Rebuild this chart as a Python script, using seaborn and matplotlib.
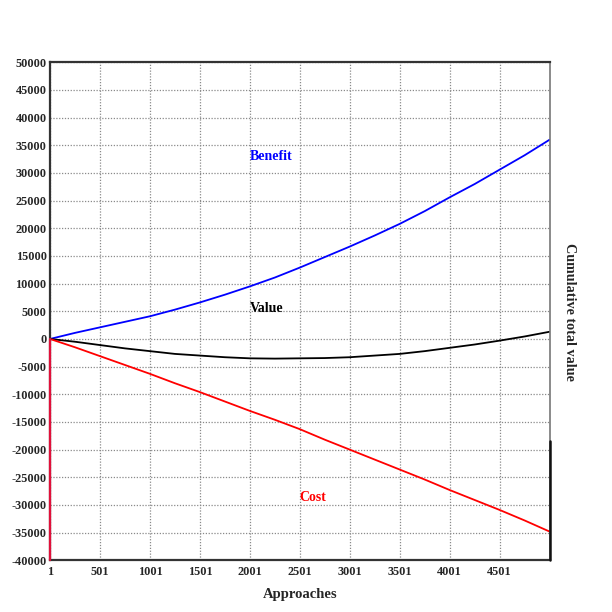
import numpy as np
import pandas as pd
import matplotlib
matplotlib.use("Agg")
import matplotlib.pyplot as plt
import seaborn as sns

approaches = [1, 251, 501, 751, 1001, 1251, 1501, 1751, 2001, 2251, 2501,
              2751, 3001, 3251, 3501, 3751, 4001, 4251, 4501, 4751, 5000]
benefit = [0, 1100, 2100, 3100, 4100, 5300, 6600, 8000, 9500, 11100, 12900,
           14800, 16700, 18700, 20800, 23100, 25600, 28000, 30600, 33200, 36000]
cost = [0, -1500, -3100, -4700, -6300, -8000, -9600, -11300, -13000, -14600, -16300,
        -18200, -20000, -21800, -23600, -25400, -27300, -29100, -30900, -32800, -34800]
value = [0, -500, -1100, -1700, -2200, -2700, -3000, -3300, -3500, -3550, -3500,
         -3450, -3300, -3000, -2700, -2200, -1600, -1000, -300, 450, 1300]

series_names = ["Benefit", "Value", "Cost"]
series_colors = {"Benefit": "#0000ff", "Value": "#000000", "Cost": "#ff0000"}
x_ticks = [1, 501, 1001, 1501, 2001, 2501, 3001, 3501, 4001, 4501]
y_ticks = list(range(-40000, 50001, 5000))

df = pd.DataFrame({
    "Approaches": approaches * 3,
    "val": benefit + value + cost,
    "series": ["Benefit"] * len(approaches) + ["Value"] * len(approaches) + ["Cost"] * len(approaches),
})

sns.set_style("white")
plt.rcParams["font.family"] = ["Liberation Serif", "DejaVu Serif"]

fig = plt.figure(figsize=(6.12, 6.12), dpi=100)
ax = fig.add_axes([50 / 612, 1 - 560.3 / 612, 499.5 / 612, (560.3 - 62.3) / 612])

sns.lineplot(data=df, x="Approaches", y="val", hue="series", hue_order=series_names,
             palette=series_colors, linewidth=1.3, legend=False, ax=ax, sort=False)

ax.set_xlim(1, 5000)
ax.set_ylim(-40000, 50000)
ax.set_xticks(x_ticks)
ax.set_xticklabels([str(t) for t in x_ticks])
ax.set_yticks(y_ticks)
ax.set_yticklabels([str(t) for t in y_ticks])
ax.tick_params(axis="x", length=0, labelsize=8.8, pad=4)
ax.tick_params(axis="y", length=0, labelsize=8.8, pad=2.5)
for lab in ax.get_xticklabels() + ax.get_yticklabels():
    lab.set_fontweight("bold")

ax.grid(True, color="#8a8a8a", linestyle=(0, (1, 1.3)), linewidth=0.9)
ax.set_axisbelow(True)

for side in ["top", "bottom", "left", "right"]:
    ax.spines[side].set_color("#333333")
    ax.spines[side].set_linewidth(1.6)
ax.spines["right"].set_color("#777777")
ax.spines["right"].set_linewidth(1.2)

# colored lower part of left axis and dark lower part of right axis
ax.axvline(1, ymin=0, ymax=40000 / 90000, color="#e0103a", linewidth=1.6, zorder=5, clip_on=False)
ax.axvline(5000, ymin=0, ymax=21500 / 90000, color="#111111", linewidth=1.8, zorder=5, clip_on=False)

ax.set_xlabel("Approaches", fontsize=10.5, fontweight="bold", labelpad=7)
ax.set_ylabel("")
fig.text(569 / 612, 1 - 312 / 612, "Cumulative total value", rotation=-90,
         ha="center", va="center", fontsize=10.2, fontweight="bold")

ax.text(2001, 33000, "Benefit", color="#0000ff", fontsize=10, fontweight="bold", va="center", ha="left")
ax.text(2001, 5500, "Value", color="#000000", fontsize=10, fontweight="bold", va="center", ha="left")
ax.text(2501, -28700, "Cost", color="#ff0000", fontsize=10, fontweight="bold", va="center", ha="left")

fig.savefig("out.png", dpi=100, facecolor="white")
